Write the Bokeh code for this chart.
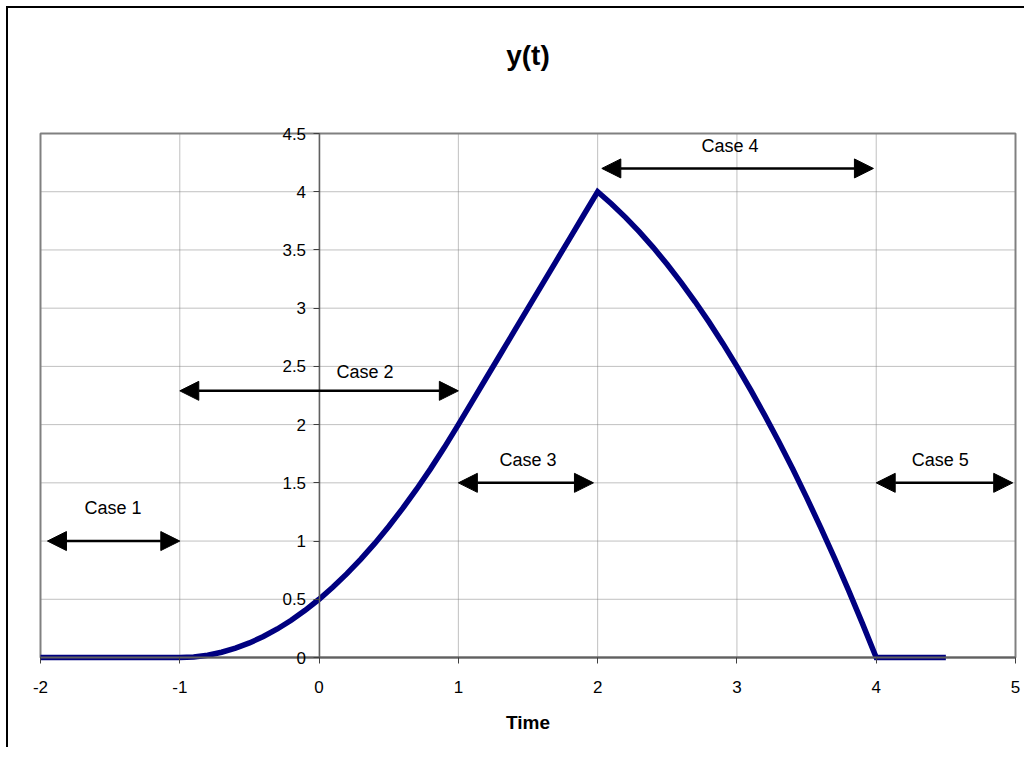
from bokeh.plotting import figure
from bokeh.models import Arrow, NormalHead, FixedTicker, ColumnDataSource, Title
from bokeh.core.properties import value
from bokeh.embed import file_html
from bokeh.resources import INLINE

# ---- data ----
time = [-2.0, -1.9, -1.8, -1.7, -1.6, -1.5, -1.4, -1.3, -1.2, -1.1, -1.0,
        -0.9, -0.8, -0.7, -0.6, -0.5, -0.4, -0.3, -0.2, -0.1, 0.0,
        0.1, 0.2, 0.3, 0.4, 0.5, 0.6, 0.7, 0.8, 0.9, 1.0,
        1.1, 1.2, 1.3, 1.4, 1.5, 1.6, 1.7, 1.8, 1.9, 2.0,
        2.1, 2.2, 2.3, 2.4, 2.5, 2.6, 2.7, 2.8, 2.9, 3.0,
        3.1, 3.2, 3.3, 3.4, 3.5, 3.6, 3.7, 3.8, 3.9, 4.0,
        4.1, 4.2, 4.3, 4.4, 4.5]
y_t = [0, 0, 0, 0, 0, 0, 0, 0, 0, 0, 0,
       0.005, 0.02, 0.045, 0.08, 0.125, 0.18, 0.245, 0.32, 0.405, 0.5,
       0.605, 0.72, 0.845, 0.98, 1.125, 1.28, 1.445, 1.62, 1.805, 2.0,
       2.2, 2.4, 2.6, 2.8, 3.0, 3.2, 3.4, 3.6, 3.8, 4.0,
       3.895, 3.78, 3.655, 3.52, 3.375, 3.22, 3.055, 2.88, 2.695, 2.5,
       2.295, 2.08, 1.855, 1.62, 1.375, 1.12, 0.855, 0.58, 0.295, 0.0,
       0, 0, 0, 0, 0]

x_ticks = [-2, -1, 0, 1, 2, 3, 4, 5]
x_tick_labels = ["-2", "-1", "0", "1", "2", "3", "4", "5"]
y_ticks = [0, 0.5, 1, 1.5, 2, 2.5, 3, 3.5, 4, 4.5]
y_tick_labels = ["0", "0.5", "1", "1.5", "2", "2.5", "3", "3.5", "4", "4.5"]

case_labels = ["Case 1", "Case 2", "Case 3", "Case 4", "Case 5"]
case_label_x = [-1.48, 0.33, 1.5, 2.95, 4.46]
case_label_y = [1.28, 2.45, 1.70, 4.39, 1.70]
arrow_x_start = [-1.95, -1.0, 1.0, 2.03, 4.0]
arrow_x_end = [-1.0, 1.0, 1.97, 3.98, 4.98]
arrow_y = [1.0, 2.29, 1.5, 4.2, 1.5]

FONT = "Liberation Sans"

# ---- layout (pixels) ----
x_lo, x_hi = x_ticks[0], x_ticks[-1]
y_lo, y_hi = y_ticks[0], y_ticks[-1]
AREA_W, AREA_H = 975, 524                 # visible plot area
PX_X = AREA_W / (x_hi - x_lo)
PX_Y = AREA_H / (y_hi - y_lo)
PAD_L, PAD_R, PAD_T, PAD_B = 8, 8, 33, 88   # frame extends beyond the plot area
FRAME_W = AREA_W + PAD_L + PAD_R
FRAME_H = AREA_H + PAD_T + PAD_B

p = figure(frame_width=FRAME_W, frame_height=FRAME_H,
           min_border_left=24, min_border_right=1,
           min_border_top=92, min_border_bottom=2,
           x_range=(x_lo - PAD_L / PX_X, x_hi + PAD_R / PX_X),
           y_range=(y_lo - PAD_B / PX_Y, y_hi + PAD_T / PX_Y),
           output_backend="svg", toolbar_location=None)
p.styles = {"border-left": "2px solid #000000", "border-top": "2px solid #000000",
            "margin-left": "6px", "margin-top": "6px"}

p.background_fill_color = "white"
p.border_fill_color = "white"
p.outline_line_color = None
p.xgrid.visible = False
p.ygrid.visible = False

# spacer between the frame and the title, then the title itself
p.add_layout(Title(text=" ", text_font_size="1px", standoff=27), "above")
p.title.text = "y(t)"
p.title.align = "center"
p.title.text_font = FONT
p.title.text_font_size = "28px"
p.title.text_font_style = "bold"
p.title.text_color = "black"
p.title.standoff = 0

# dotted grid and the grey plot-area border
p.segment(x0=x_ticks, y0=[y_lo] * len(x_ticks), x1=x_ticks, y1=[y_hi] * len(x_ticks),
          line_color="#808080", line_dash="1 1", line_width=1)
p.segment(x0=[x_lo] * len(y_ticks), y0=y_ticks, x1=[x_hi] * len(y_ticks), y1=y_ticks,
          line_color="#808080", line_dash="1 1", line_width=1)
p.quad(left=[x_lo], right=[x_hi], bottom=[y_lo], top=[y_hi],
       fill_color=None, line_color="#808080", line_width=2)

# x axis at y = 0
xa = p.xaxis[0]
xa.fixed_location = 0
xa.bounds = (x_lo, x_hi)
xa.ticker = FixedTicker(ticks=x_ticks)
xa.major_label_overrides = {k: v for k, v in zip(x_ticks, x_tick_labels)}
xa.minor_tick_line_color = None
xa.major_tick_in = 0
xa.major_tick_out = 6
xa.major_tick_line_color = "#404040"
xa.axis_line_color = "#606060"
xa.axis_line_width = 2
xa.major_label_text_font = FONT
xa.major_label_text_font_size = "17px"
xa.major_label_text_color = "black"
xa.major_label_standoff = 17
xa.axis_label = "Time"
xa.axis_label_text_font = FONT
xa.axis_label_text_font_size = "19px"
xa.axis_label_text_font_style = "bold"
xa.axis_label_text_color = "black"
xa.axis_label_standoff = 16

# y axis crossing at t = 0
ya = p.yaxis[0]
ya.fixed_location = 0
ya.bounds = (y_lo, y_hi)
ya.ticker = FixedTicker(ticks=y_ticks)
ya.major_label_overrides = {k: v for k, v in zip(y_ticks, y_tick_labels)}
ya.minor_tick_line_color = None
ya.major_tick_in = 0
ya.major_tick_out = 6
ya.major_tick_line_color = "#404040"
ya.axis_line_color = "#606060"
ya.axis_line_width = 1.5
ya.major_label_text_font = FONT
ya.major_label_text_font_size = "17px"
ya.major_label_text_color = "black"
ya.major_label_standoff = 7

src = ColumnDataSource(data=dict(t=time, y=y_t))
p.line("t", "y", source=src, line_color="#000080", line_width=5.5,
       line_join="miter")

for xs, xe, yy in zip(arrow_x_start, arrow_x_end, arrow_y):
    p.add_layout(Arrow(
        start=NormalHead(size=19, fill_color="black", line_color="black", line_width=1),
        end=NormalHead(size=19, fill_color="black", line_color="black", line_width=1),
        x_start=xs, y_start=yy, x_end=xe, y_end=yy,
        line_color="black", line_width=2.5))

lab_src = ColumnDataSource(data=dict(x=case_label_x, y=case_label_y, text=case_labels))
p.text("x", "y", text="text", source=lab_src, text_font=value(FONT),
       text_font_size="18px", text_align="center", text_baseline="middle",
       text_color="black")

open("out.html", "w").write(file_html(p, INLINE))
